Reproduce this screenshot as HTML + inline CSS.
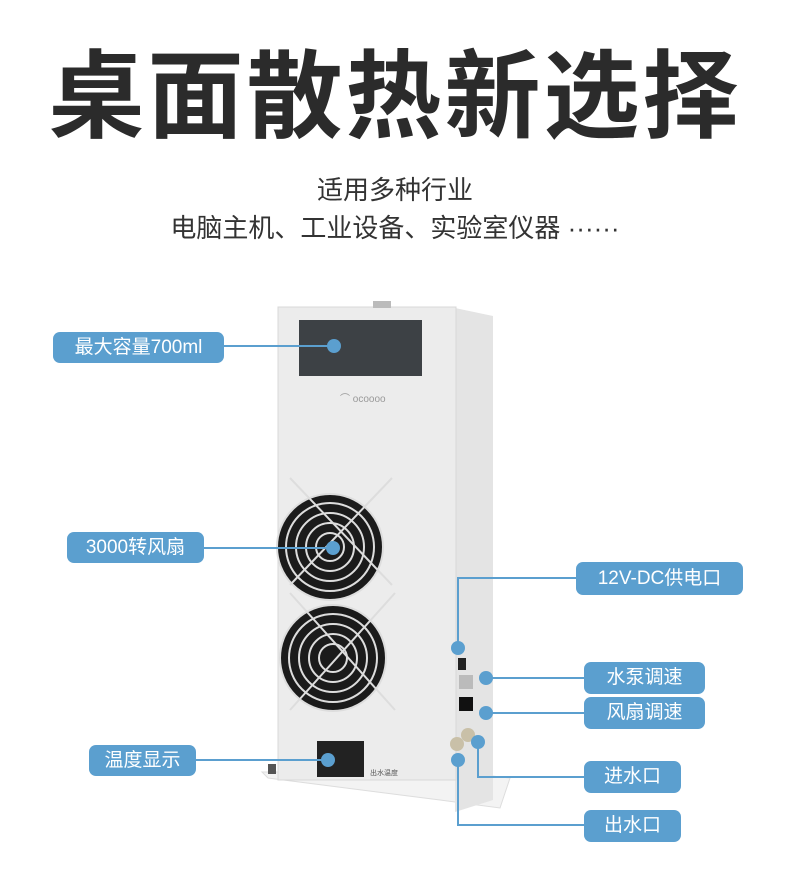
<!DOCTYPE html>
<html><head><meta charset="utf-8"><style>
body{margin:0;width:790px;height:885px;background:#fff;position:relative;overflow:hidden;font-family:"Liberation Sans","Noto Sans CJK SC",sans-serif}
.t{position:absolute;left:0;width:790px;text-align:center;color:#2b2b2b}
.lb{position:absolute;background:#5b9fcf;color:#fff;border-radius:7px;font-size:19px;line-height:31px;text-align:center}
</style></head><body>
<div class="t" style="top:34px;font-size:96px;font-weight:bold;letter-spacing:3px;line-height:128px">桌面散热新选择</div>
<div class="t" style="top:173px;font-size:26px;line-height:34px;color:#333">适用多种行业</div>
<div class="t" style="top:211px;font-size:26px;line-height:34px;color:#333">电脑主机、工业设备、实验室仪器 ······</div>
<svg width="790" height="885" style="position:absolute;left:0;top:0">
<defs><radialGradient id="g"><stop offset="0" stop-color="#333"/><stop offset="1" stop-color="#111"/></radialGradient></defs>
<!-- base plate -->
<polygon points="262,772 455,772 510,778 500,808 440,800 268,778" fill="#f3f3f3" stroke="#ddd"/>
<rect x="268" y="764" width="8" height="10" fill="#555"/>
<!-- side -->
<polygon points="455,308 493,316 493,800 455,812" fill="#e4e4e4"/>
<!-- front -->
<rect x="278" y="307" width="178" height="473" fill="#ececec" stroke="#d8d8d8"/>
<rect x="373" y="301" width="18" height="7" fill="#bbb"/>
<rect x="299" y="320" width="123" height="56" fill="#3d4145"/>
<text x="340" y="402" font-size="10" fill="#999" font-family="Liberation Sans">⌒ ocoooo</text>
<g fill="none" stroke="#ddd" stroke-width="2">
<circle cx="330" cy="547" r="53" fill="#1b1b1b"/>
<circle cx="330" cy="547" r="44"/><circle cx="330" cy="547" r="34"/><circle cx="330" cy="547" r="24"/><circle cx="330" cy="547" r="14"/>
<line x1="290" y1="478" x2="392" y2="585"/><line x1="392" y1="478" x2="290" y2="585"/>
<circle cx="333" cy="658" r="53" fill="#1b1b1b"/>
<circle cx="333" cy="658" r="44"/><circle cx="333" cy="658" r="34"/><circle cx="333" cy="658" r="24"/><circle cx="333" cy="658" r="14"/>
<line x1="290" y1="593" x2="395" y2="710"/><line x1="395" y1="593" x2="290" y2="710"/>
</g>
<rect x="317" y="741" width="47" height="36" fill="#222"/>
<text x="370" y="775" font-size="7" fill="#555">出水温度</text>
<rect x="458" y="658" width="8" height="12" fill="#222"/>
<rect x="459" y="675" width="14" height="14" fill="#bbb"/>
<rect x="459" y="697" width="14" height="14" fill="#111"/>
<circle cx="468" cy="735" r="7" fill="#c9c0a8"/><circle cx="457" cy="744" r="7" fill="#c9c0a8"/>
<!-- connectors -->
<g stroke="#5b9fcf" stroke-width="2" fill="none">
<line x1="224" y1="346" x2="334" y2="346"/>
<line x1="204" y1="548" x2="333" y2="548"/>
<line x1="196" y1="760" x2="328" y2="760"/>
<polyline points="576,578 458,578 458,648"/>
<line x1="486" y1="678" x2="584" y2="678"/>
<line x1="486" y1="713" x2="584" y2="713"/>
<polyline points="584,777 478,777 478,742"/>
<polyline points="584,825 458,825 458,760"/>
</g>
<g fill="#5b9fcf">
<circle cx="334" cy="346" r="7"/><circle cx="333" cy="548" r="7"/><circle cx="328" cy="760" r="7"/>
<circle cx="458" cy="648" r="7"/><circle cx="486" cy="678" r="7"/><circle cx="486" cy="713" r="7"/>
<circle cx="478" cy="742" r="7"/><circle cx="458" cy="760" r="7"/>
</g>
</svg>
<div class="lb" style="left:53px;top:332px;width:171px">最大容量700ml</div>
<div class="lb" style="left:67px;top:532px;width:137px">3000转风扇</div>
<div class="lb" style="left:89px;top:745px;width:107px">温度显示</div>
<div class="lb" style="left:576px;top:562px;width:167px;line-height:33px">12V-DC供电口</div>
<div class="lb" style="left:584px;top:662px;width:121px;line-height:32px">水泵调速</div>
<div class="lb" style="left:584px;top:697px;width:121px;line-height:32px">风扇调速</div>
<div class="lb" style="left:584px;top:761px;width:97px;line-height:32px">进水口</div>
<div class="lb" style="left:584px;top:810px;width:97px;line-height:32px">出水口</div>
</body></html>
